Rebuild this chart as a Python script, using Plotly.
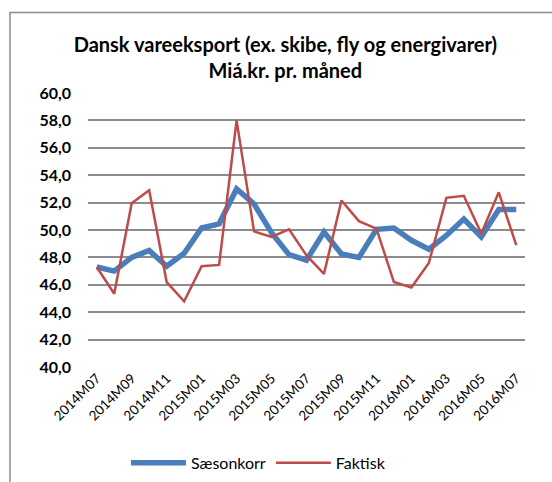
import plotly.graph_objects as go

months = ["2014M07", "2014M08", "2014M09", "2014M10", "2014M11", "2014M12",
          "2015M01", "2015M02", "2015M03", "2015M04", "2015M05", "2015M06",
          "2015M07", "2015M08", "2015M09", "2015M10", "2015M11", "2015M12",
          "2016M01", "2016M02", "2016M03", "2016M04", "2016M05", "2016M06",
          "2016M07"]
saesonkorr = [47.3, 47.0, 48.0, 48.5, 47.35, 48.3, 50.15, 50.45, 53.0, 51.9,
              49.8, 48.2, 47.8, 49.85, 48.25, 48.0, 50.05, 50.15, 49.25, 48.6,
              49.6, 50.8, 49.5, 51.5, 51.5]
faktisk = [47.3, 45.35, 51.95, 52.9, 46.2, 44.8, 47.35, 47.45, 58.0, 49.9,
           49.5, 50.05, 48.15, 46.8, 52.15, 50.65, 50.1, 46.2, 45.8, 47.6,
           52.35, 52.5, 49.75, 52.75, 48.9]
tick_labels = months[::2]
y_ticks = [40, 42, 44, 46, 48, 50, 52, 54, 56, 58, 60]

FONT = "Lato, 'Open Sans', sans-serif"

fig = go.Figure()
fig.add_trace(go.Scatter(x=months, y=saesonkorr, mode="lines", name="Sæsonkorr",
                         line=dict(color="#4a7ebb", width=5.5)))
fig.add_trace(go.Scatter(x=months, y=faktisk, mode="lines", name="Faktisk",
                         line=dict(color="#be4b48", width=2.5)))

fig.update_layout(
    width=552, height=482,
    margin=dict(l=88, r=27, t=93, b=115, autoexpand=False),
    paper_bgcolor="white", plot_bgcolor="white",
    font=dict(family=FONT, color="black"),
    separators=",.",
    title=dict(text="<b>Dansk vareeksport (ex. skibe, fly og energivarer)<br>Miá.kr. pr. måned</b>",
               x=0.517, xanchor="center", y=0.892, yanchor="middle",
               font=dict(size=20, family=FONT, color="black")),
    showlegend=True,
    legend=dict(orientation="h", x=0.39, xanchor="center", y=-0.35, yanchor="middle",
                font=dict(size=16, family=FONT), bgcolor="rgba(0,0,0,0)",
                itemwidth=55),
    xaxis=dict(type="category", range=[-0.5, len(months) - 0.5],
               tickmode="array", tickvals=tick_labels, ticktext=tick_labels,
               tickangle=-45, tickfont=dict(size=13.5, family=FONT),
               showgrid=False, showline=False, ticks="", zeroline=False,
               automargin=False),
    yaxis=dict(range=[40, 60], tickmode="array", tickvals=y_ticks,
               tickformat=".1f", tickfont=dict(size=16, family=FONT, weight="bold"),
               showgrid=True, gridcolor="#8c8c8c", gridwidth=1.5,
               showline=False, zeroline=False, ticks="", ticklabelstandoff=16,
               automargin=False),
    shapes=[dict(type="rect", xref="paper", yref="paper",
                 x0=(10 - 88) / 437, x1=1.3, y0=-0.6, y1=(367 - 12.5) / 274,
                 line=dict(color="#8c8c8c", width=1.5), layer="below")],
)

fig.write_html("out.html", config={"displayModeBar": False},
               post_script="document.body.style.margin='0';")
